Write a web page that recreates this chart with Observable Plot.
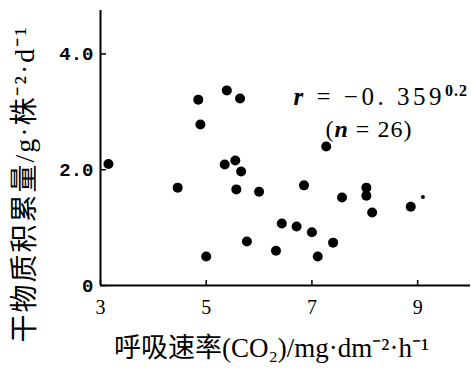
<!DOCTYPE html>
<html><head><meta charset="utf-8">
<script src="https://cdn.jsdelivr.net/npm/d3@7"></script>
<script src="https://cdn.jsdelivr.net/npm/@observablehq/plot@0.6"></script>
<style>html,body{margin:0;padding:0;background:#fff;overflow:hidden}</style>
</head><body><div id="chart"></div>
<script>
// Respiration rate (CO2, mg·dm^-2·h^-1) and dry matter accumulation (g·plant^-1·d^-1)
const respiration = [3.15,4.85,5.39,5.64,4.89,5.35,5.55,5.66,4.46,5.57,6.0,6.43,5.77,6.32,5.0,7.27,6.85,7.57,8.03,8.03,8.14,8.87,6.71,7.0,7.4,7.11];
const dryMatter   = [2.10,3.21,3.37,3.23,2.78,2.09,2.16,1.97,1.69,1.66,1.62,1.07,0.76,0.60,0.50,2.40,1.73,1.52,1.69,1.55,1.26,1.36,1.02,0.92,0.74,0.50];
// a tiny speck printed in the figure
const speckX = [9.1];
const speckY = [1.53];
const xTicks = [3,5,7,9];
const yTicks = [0,2,4];
const yTickLabels = ["0","2.0","4.0"];
const xLabel = "呼吸速率(CO₂)/mg·dm⁻²·h⁻¹";
const yLabel = "干物质积累量/g·株⁻²·d⁻¹";
const rText = "r=−0. 359";
const nText = "(n=26)";

const points = respiration.map((x,i)=>({x, y: dryMatter[i]}));
const specks = speckX.map((x,i)=>({x, y: speckY[i]}));
const mixedFont = "'Liberation Serif', 'Noto Sans CJK SC', serif";

const plot = Plot.plot({
  width: 471, height: 370,
  marginLeft: 100, marginRight: 1, marginTop: 10, marginBottom: 85,
  style: {background: "#fff", color: "#000"},
  x: {domain: [3,10], ticks: xTicks},
  y: {domain: [0,4.75], ticks: yTicks},
  marks: [
    Plot.axisX({ticks: xTicks, tickSize: -5, tickPadding: 19, strokeWidth: 1.5, fontSize: 20, fontFamily: "Liberation Serif", label: null, tickFormat: d=>String(d)}),
    Plot.axisY({ticks: yTicks, tickSize: -6, tickPadding: 13, strokeWidth: 1.5, fontSize: 19, fontWeight: "bold", fontFamily: "Liberation Mono", label: null, tickFormat: d=>yTickLabels[yTicks.indexOf(d)]}),
    Plot.ruleX([3], {strokeWidth: 2}),
    Plot.ruleY([0], {strokeWidth: 2}),
    Plot.dot(points, {x: "x", y: "y", r: 5, fill: "#000", stroke: null}),
    Plot.dot(specks, {x: "x", y: "y", r: 2, fill: "#000", stroke: null}),
    Plot.text([xLabel], {frameAnchor: "bottom", textAnchor: "middle", dx: -14, dy: 63, text: d=>d, fontSize: 27, fontFamily: mixedFont, lineAnchor: "middle"}),
    Plot.text([yLabel], {frameAnchor: "left", textAnchor: "middle", dx: -75, dy: 36, rotate: -90, text: d=>d, fontSize: 28, fontFamily: mixedFont, lineAnchor: "middle"}),
    Plot.text([rText], {frameAnchor: "top-left", dx: 193, dy: 86, text: d=>d, textAnchor: "start", lineAnchor: "middle", fontSize: 25, fontFamily: "Liberation Serif"}),
    Plot.text([nText], {frameAnchor: "top-left", dx: 225, dy: 119, text: d=>d, textAnchor: "start", lineAnchor: "middle", fontSize: 24, fontFamily: "Liberation Serif"})
  ]
});
document.getElementById("chart").appendChild(plot);

// rich formatting: letter spacing for the axis titles, italic variables and superscript in the annotation
d3.select(plot).selectAll("text").each(function(){
  const t = d3.select(this);
  const s = t.text();
  if (s === yLabel) {
    t.attr("letter-spacing", 2);
  } else if (s === rText) {
    t.text("").attr("letter-spacing", 3.5);
    t.append("tspan").attr("font-style","italic").attr("font-weight","bold").text("r");
    t.append("tspan").text(" = −0. 359");
    t.append("tspan").attr("font-size", 16).attr("font-weight","bold").attr("letter-spacing", 1).attr("dy", -9).text("0.2");
  } else if (s === nText) {
    t.text("").attr("letter-spacing", 1);
    t.append("tspan").text("(");
    t.append("tspan").attr("font-style","italic").attr("font-weight","bold").text("n");
    t.append("tspan").text(" = 26)");
  }
});
</script>
</body></html>
